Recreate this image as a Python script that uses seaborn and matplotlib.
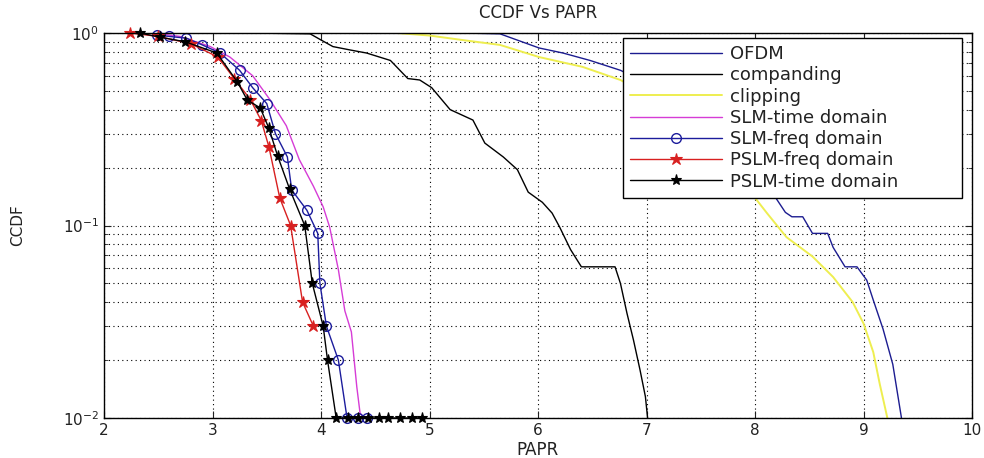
import matplotlib
matplotlib.use("Agg")
import matplotlib.pyplot as plt
import seaborn as sns
import numpy as np
import pandas as pd

# ---------------- data ----------------
ofdm_x = [4.95, 5.3, 5.65, 6.01, 6.23, 6.48, 6.76, 7.0, 7.3, 7.6, 7.9, 8.16, 8.28, 8.34,
          8.44, 8.53, 8.67, 8.72, 8.83, 8.94, 9.03, 9.09, 9.18, 9.27, 9.35]
ofdm_y = [1.0, 1.0, 0.99, 0.836, 0.787, 0.72, 0.64, 0.55, 0.42, 0.3, 0.2, 0.148, 0.117, 0.111,
          0.111, 0.091, 0.091, 0.077, 0.061, 0.061, 0.052, 0.041, 0.029, 0.019, 0.01]

comp_x = [3.35, 3.9, 4.0, 4.11, 4.27, 4.42, 4.64, 4.80, 4.91, 5.02, 5.19, 5.40, 5.51, 5.68,
          5.81, 5.91, 6.04, 6.13, 6.20, 6.30, 6.40, 6.71, 6.76, 6.82, 6.88, 6.94, 6.99, 7.01]
comp_y = [1.0, 0.99, 0.92, 0.85, 0.816, 0.787, 0.72, 0.58, 0.57, 0.52, 0.40, 0.353, 0.268, 0.227,
          0.195, 0.149, 0.132, 0.116, 0.098, 0.075, 0.061, 0.061, 0.050, 0.035, 0.0254, 0.0178,
          0.0129, 0.01]

clip_x = [4.7, 5.0, 5.3, 5.65, 6.01, 6.41, 6.76, 7.1, 7.4, 7.7, 7.98, 8.11, 8.29, 8.53, 8.72,
          8.9, 9.0, 9.09, 9.15, 9.22]
clip_y = [1.0, 0.97, 0.92, 0.867, 0.75, 0.667, 0.57, 0.45, 0.33, 0.22, 0.144, 0.116, 0.087,
          0.069, 0.054, 0.040, 0.031, 0.022, 0.015, 0.01]

slmt_x = [2.45, 2.7, 2.98, 3.16, 3.37, 3.53, 3.68, 3.80, 3.93, 4.02, 4.08, 4.16, 4.22, 4.28,
          4.33, 4.36, 4.40]
slmt_y = [1.0, 0.96, 0.85, 0.75, 0.6, 0.45, 0.33, 0.22, 0.16, 0.125, 0.098, 0.059, 0.036,
          0.028, 0.0145, 0.0106, 0.01]

slmf_x = [2.49, 2.6, 2.76, 2.9, 3.07, 3.25, 3.37, 3.50, 3.58, 3.69, 3.73, 3.87, 3.97, 3.99,
          4.05, 4.16, 4.24, 4.34, 4.42]
slmf_y = [0.976, 0.96, 0.94, 0.87, 0.787, 0.64, 0.52, 0.43, 0.30, 0.227, 0.153, 0.12, 0.091,
          0.05, 0.03, 0.02, 0.01, 0.01, 0.01]

pslmf_x = [2.24, 2.5, 2.8, 3.05, 3.2, 3.35, 3.45, 3.52, 3.62, 3.72, 3.83, 3.93]
pslmf_y = [1.0, 0.96, 0.88, 0.75, 0.58, 0.45, 0.35, 0.256, 0.139, 0.1, 0.04, 0.03]

pslmt_x = [2.33, 2.52, 2.75, 3.04, 3.23, 3.32, 3.44, 3.52, 3.60, 3.71, 3.85, 3.92, 4.02, 4.06,
           4.14, 4.25, 4.34, 4.43, 4.53, 4.62, 4.73, 4.84, 4.93]
pslmt_y = [1.0, 0.95, 0.9, 0.787, 0.556, 0.449, 0.408, 0.32, 0.23, 0.155, 0.1, 0.05, 0.03, 0.02,
           0.01, 0.01, 0.01, 0.01, 0.01, 0.01, 0.01, 0.01, 0.01]

labels = ["OFDM", "companding", "clipping", "SLM-time domain", "SLM-freq domain",
          "PSLM-freq domain", "PSLM-time domain"]
title = "CCDF Vs PAPR"
xlabel = "PAPR"
ylabel = "CCDF"
xticks = [2, 3, 4, 5, 6, 7, 8, 9, 10]

# ---------------- styling ----------------
sns.set_style("ticks")
plt.rcParams["font.family"] = ["DejaVu Sans"]
plt.rcParams["mathtext.fontset"] = "dejavusans"
plt.rcParams["text.color"] = "#222222"
plt.rcParams["axes.labelcolor"] = "#222222"
plt.rcParams["xtick.color"] = "#222222"
plt.rcParams["ytick.color"] = "#222222"

fig = plt.figure(figsize=(9.84, 4.58), dpi=100)
ax = fig.add_axes([104 / 984, 1 - 418 / 458, 868 / 984, 385 / 458])

series = [
    (ofdm_x, ofdm_y, dict(color="#1c1c90", linewidth=1.0)),
    (comp_x, comp_y, dict(color="black", linewidth=1.0)),
    (clip_x, clip_y, dict(color="#eeee50", linewidth=1.4)),
    (slmt_x, slmt_y, dict(color="#d63cd6", linewidth=1.0)),
    (slmf_x, slmf_y, dict(color="#1c1c9c", linewidth=1.0, marker="o", markersize=7,
                          markerfacecolor="none", markeredgecolor="#1c1c9c", markeredgewidth=1.0)),
    (pslmf_x, pslmf_y, dict(color="#d82020", linewidth=1.0, marker="*", markersize=9,
                            markeredgecolor="#d82020", markeredgewidth=0.8)),
    (pslmt_x, pslmt_y, dict(color="black", linewidth=1.0, marker="*", markersize=8,
                            markeredgecolor="black", markeredgewidth=0.8)),
]

for (xs, ys, kw), lab in zip(series, labels):
    df = pd.DataFrame({"x": xs, "y": ys})
    sns.lineplot(data=df, x="x", y="y", ax=ax, label=lab, sort=False, estimator=None,
                 clip_on=("marker" not in kw), **kw)

ax.set_yscale("log")
ax.set_xlim(2, 10)
ax.set_ylim(0.01, 1)
ax.set_xticks(xticks)
ax.set_xticklabels([str(t) for t in xticks])

ax.grid(True, which="major", linestyle=(0, (1, 3)), color="black", linewidth=0.8)
ax.grid(True, which="minor", axis="y", linestyle=(0, (1, 3)), color="black", linewidth=0.8)
ax.tick_params(which="both", direction="in", top=True, right=True, labelsize=11)
ax.tick_params(which="major", length=5)
ax.tick_params(which="minor", length=3)
for s in ax.spines.values():
    s.set_color("black")
    s.set_linewidth(1.0)

ax.set_title(title, fontsize=12, pad=11)
ax.set_xlabel(xlabel, fontsize=12, labelpad=2)
ax.set_ylabel(ylabel, fontsize=11, labelpad=27)

handles, labs = ax.get_legend_handles_labels()
x0 = (623 - 104) / 868
x1 = (962 - 104) / 868
ytop = (418 - 38) / 385
leg = ax.legend(handles, labs, loc="upper left",
                bbox_to_anchor=(x0, ytop - 0.5, x1 - x0, 0.5), mode="expand",
                frameon=True, fancybox=False, edgecolor="black", framealpha=1,
                fontsize=13, handlelength=5.1, labelspacing=0.18, borderpad=0.4,
                handletextpad=0.4, borderaxespad=0)
leg.get_frame().set_linewidth(1.0)

fig.savefig("out.png", dpi=100)
